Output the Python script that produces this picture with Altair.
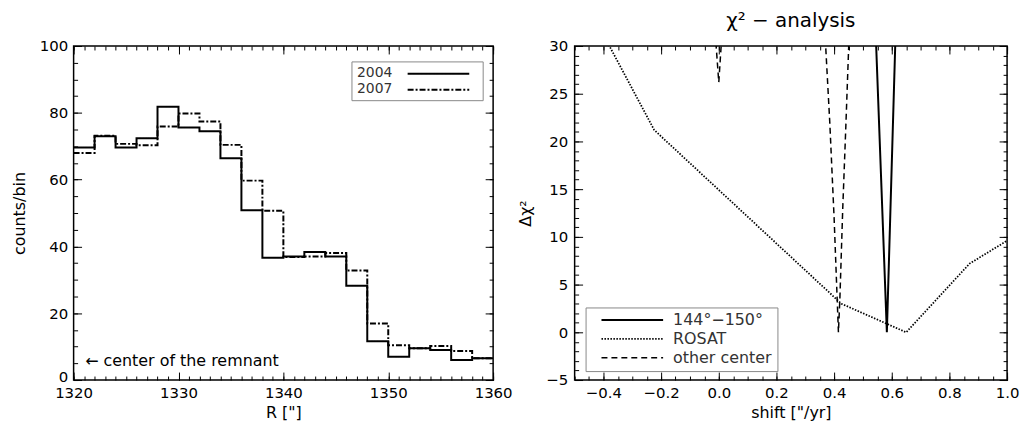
import altair as alt
import pandas as pd

FONT = "DejaVu Sans"

# ---------------- left panel data ----------------
r_edges = [1320, 1322, 1324, 1326, 1328, 1330, 1332, 1334, 1336, 1338,
           1340, 1342, 1344, 1346, 1348, 1350, 1352, 1354, 1356, 1358, 1360]
counts_2004 = [69.6, 73.0, 69.6, 72.4, 81.8, 75.6, 74.5, 66.4, 50.8, 36.6,
               37.0, 38.3, 37.0, 28.2, 11.6, 7.0, 9.5, 9.0, 6.0, 6.5]
counts_2007 = [68.0, 73.1, 70.7, 70.3, 75.9, 79.8, 77.4, 70.4, 59.7, 50.7,
               36.8, 37.0, 38.0, 32.8, 16.9, 10.4, 9.5, 10.2, 8.7, 6.5]
years = ["2004", "2007"]
year_dash = [[1, 0], [6, 2, 2, 2]]
ann_x = [1321.1]
ann_y = [5.7]
ann_text = ["\u2190 center of the remnant"]

# ---------------- right panel data ----------------
series_names = ["144\u00b0\u2212150\u00b0", "ROSAT", "other center"]
shift_144 = [0.52, 0.583, 0.64]
chi_144 = [51.0, 0.0, 59.0]
shift_rosat = [-0.45, -0.224, 0.425, 0.65, 0.87, 1.0]
chi_rosat = [34.0, 21.2, 3.0, 0.0, 7.2, 9.6]
shift_other = [-0.02, 0.0, 0.02, 0.2, 0.36, 0.385, 0.40, 0.415, 0.42, 0.43, 0.44, 0.465]
chi_other = [34.5, 26.2, 35.5, 120.0, 36.0, 22.0, 12.0, 0.0, 3.5, 13.0, 21.0, 42.0]

# ---------------- build tables ----------------
rows = []
for yr, vals in zip(years, [counts_2004, counts_2007]):
    v = vals + [vals[-1]]
    for r, c in zip(r_edges, v):
        rows.append({"r": r, "c": c, "year": yr})
dfL = pd.DataFrame(rows)
dfAnn = pd.DataFrame({"r": ann_x, "c": ann_y, "t": ann_text})

rows = []
for name, xs, ys in zip(series_names,
                        [shift_144, shift_rosat, shift_other],
                        [chi_144, chi_rosat, chi_other]):
    for i, (a, b) in enumerate(zip(xs, ys)):
        rows.append({"s": a, "chi": b, "series": name, "o": i})
dfR = pd.DataFrame(rows)

W1, W2, H = 422, 435, 336

xL = alt.Scale(domain=[1320, 1360], nice=False, zero=False)
yL = alt.Scale(domain=[0, 100], nice=False, zero=False)
xR = alt.Scale(domain=[-0.5, 1.0], nice=False, zero=False)
yR = alt.Scale(domain=[-5, 30], nice=False, zero=False)


def label_axis(title, values, fmt, lpad, tpad, **kw):
    return alt.Axis(title=title, values=values, format=fmt, ticks=False, tickSize=0,
                    domain=False, grid=False, labelPadding=lpad, titlePadding=tpad,
                    labelFlush=False, labelOverlap=False, **kw)


def tick_axis(orient, offset, values, size):
    return alt.Axis(orient=orient, offset=offset, values=values, labels=False,
                    domain=False, grid=False, ticks=True, tickColor="black",
                    tickWidth=1, tickSize=size, title=None)


def tick_layers(df, xf, yf, xs, ys, W, xmaj, xmin, ymaj, ymin):
    out = []
    for xo, yo in [("top", "right"), ("bottom", "left")]:
        for xv, yv, sz in [(xmaj, ymaj, 8), (xmin, ymin, 4)]:
            out.append(alt.Chart(df).mark_point(opacity=0).encode(
                x=alt.X(xf, scale=xs, axis=tick_axis(xo, -H, xv, sz)),
                y=alt.Y(yf, scale=ys, axis=tick_axis(yo, -W, yv, sz)),
            ))
    return out


# ---------------- left chart ----------------
left_lines = alt.Chart(dfL).mark_line(interpolate="step-after", color="black",
                                      strokeWidth=2, clip=True).encode(
    x=alt.X("r:Q", scale=xL,
            axis=label_axis('R ["]', [1320, 1330, 1340, 1350, 1360], "d", 6, 4)),
    y=alt.Y("c:Q", scale=yL,
            axis=label_axis("counts/bin", [0, 20, 40, 60, 80, 100], "d", 6, 12,
                            labelOffset={"condition": {"test": "datum.value === 0",
                                                       "value": -4}, "value": 0})),
    strokeDash=alt.StrokeDash("year:N",
                              scale=alt.Scale(domain=years, range=year_dash),
                              legend=None),
)

ann = alt.Chart(dfAnn).mark_text(align="left", baseline="middle", font=FONT,
                                 fontSize=16, color="black").encode(
    x=alt.X("r:Q", scale=xL, axis=None), y=alt.Y("c:Q", scale=yL, axis=None),
    text="t:N")

# legend of the left panel (label first, then line sample)
leg_box = alt.Chart(pd.DataFrame({"k": [0]})).mark_rect(
    fill="white", stroke="#888888", strokeWidth=1).encode(
    x=alt.value(280), x2=alt.value(412), y=alt.value(16), y2=alt.value(55))
leg_parts = [leg_box]
for i, (yr, dash) in enumerate(zip(years, year_dash)):
    d = pd.DataFrame({"t": [yr]})
    leg_parts.append(alt.Chart(d).mark_text(
        align="left", baseline="middle", font=FONT, fontSize=14, color="#333333").encode(
        x=alt.value(285), y=alt.value(27 + 16 * i), text="t:N"))
    leg_parts.append(alt.Chart(d).mark_rule(
        color="black", strokeWidth=2, strokeDash=dash).encode(
        x=alt.value(336), x2=alt.value(398), y=alt.value(28 + 16 * i)))

frameL = pd.DataFrame({"r": [1320, 1360], "c": [0, 100]})
ticksL = tick_layers(frameL, "r:Q", "c:Q", xL, yL, W1,
                     list(range(1320, 1361, 10)), list(range(1320, 1361)),
                     list(range(0, 101, 20)), list(range(0, 101, 5)))

left = alt.layer(left_lines, ann, *leg_parts, *ticksL).resolve_axis(
    x="independent", y="independent").properties(width=W1, height=H)

# ---------------- right chart ----------------
right_lines = alt.Chart(dfR).mark_line(color="black", clip=True).encode(
    x=alt.X("s:Q", scale=xR,
            axis=label_axis('shift ["/yr]', [-0.4, -0.2, 0.0, 0.2, 0.4, 0.6, 0.8, 1.0],
                            ".1f", 6, 4)),
    y=alt.Y("chi:Q", scale=yR,
            axis=label_axis("\u0394\u03c7\u00b2", [-5, 0, 5, 10, 15, 20, 25, 30], "d", 7, 12)),
    order="o:Q",
    strokeDash=alt.StrokeDash(
        "series:N",
        scale=alt.Scale(domain=series_names, range=[[1, 0], [1.5, 1.5], [6, 4]]),
        legend=alt.Legend(orient="none", legendX=11, legendY=263, title=None,
                          strokeColor="#888888", padding=5, symbolType="stroke",
                          symbolSize=3844, symbolStrokeWidth=2,
                          symbolStrokeColor="black", clipHeight=15, rowPadding=2,
                          symbolOffset=10, labelOffset=9,
                          labelFont=FONT, labelFontSize=16, labelColor="#333333"),
    ),
    strokeWidth=alt.StrokeWidth("series:N",
                                scale=alt.Scale(domain=series_names, range=[2, 1.5, 2]),
                                legend=None),
)

frameR = pd.DataFrame({"s": [-0.5, 1.0], "chi": [-5, 30]})
ticksR = tick_layers(frameR, "s:Q", "chi:Q", xR, yR, W2,
                     [-0.4, -0.2, 0.0, 0.2, 0.4, 0.6, 0.8, 1.0],
                     [round(-0.5 + 0.05 * i, 2) for i in range(31)],
                     list(range(-5, 31, 5)), list(range(-5, 31)))

right = alt.layer(right_lines, *ticksR).resolve_axis(
    x="independent", y="independent").properties(
    width=W2, height=H,
    title=alt.TitleParams("\u03c7\u00b2 \u2212 analysis", font=FONT, fontSize=20,
                          fontWeight="normal", color="black", offset=8))

chart = alt.hconcat(left, right, spacing=82, bounds="flush").resolve_scale(
    strokeDash="independent", strokeWidth="independent"
).properties(
    padding={"left": 2, "top": 1, "right": 0, "bottom": 2}
).configure_view(stroke="black", strokeWidth=1.5).configure_axis(
    labelFont=FONT, titleFont=FONT, labelFontSize=15, titleFontSize=16,
    labelColor="black", titleColor="black", titleFontWeight="normal"
)

chart.save("out.html", embed_options={"renderer": "svg", "actions": False})
